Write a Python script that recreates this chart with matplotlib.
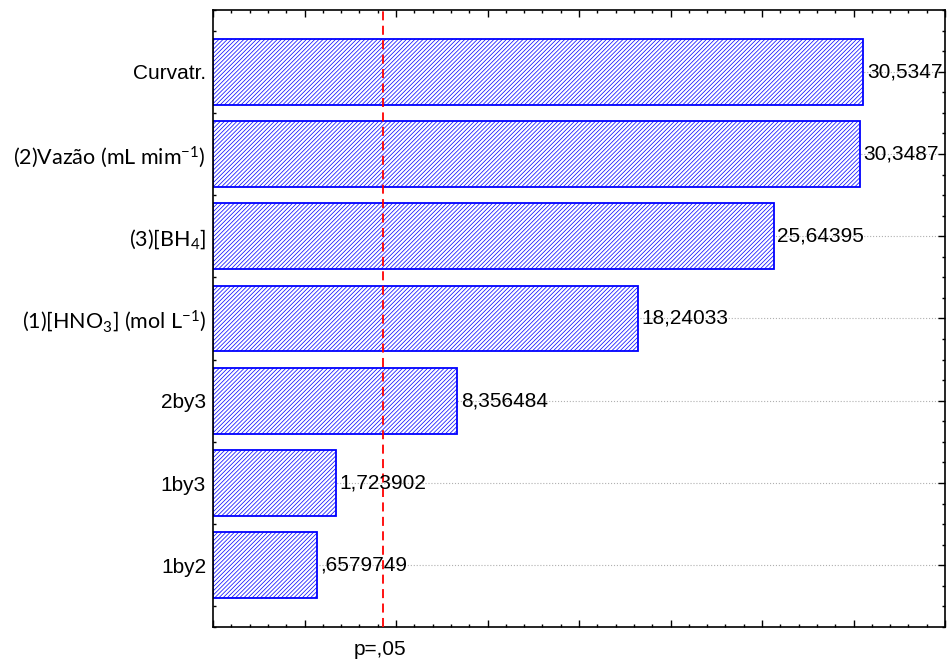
import matplotlib
matplotlib.use("Agg")
import matplotlib.pyplot as plt
from matplotlib.ticker import MultipleLocator, NullFormatter
import matplotlib.transforms as mtransforms

# ---- data ----
categories = ["Curvatr.", "(2)Vazão (mL mim$^{-1}$)", "(3)[BH$_4$]",
              "(1)[HNO$_3$] (mol L$^{-1}$)", "2by3", "1by3", "1by2"]
label_fonts = ["Liberation Sans", "Lato", "Lato", "Lato",
               "Liberation Sans", "Liberation Sans", "Liberation Sans"]
label_sizes = [15, 15.5, 15.5, 15.5, 15, 15, 15]
values = [30.5347, 30.3487, 25.64395, 18.24033, 8.356484, 1.723902, 0.6579749]
value_labels = ["30,5347", "30,3487", "25,64395", "18,24033",
                "8,356484", "1,723902", ",6579749"]
p_value = 4.302653
p_label = "p=,05"
x_min, x_max = -5, 35

plt.rcParams['font.family'] = ['Liberation Sans', 'DejaVu Sans']
plt.rcParams['mathtext.default'] = 'regular'
plt.rcParams['hatch.linewidth'] = 0.55

fig = plt.figure(figsize=(9.47, 6.64), dpi=100)
ax = fig.add_axes([213/947, 1-627/664, (945-213)/947, (627-10)/664])

ypos = list(range(len(categories)))
widths = [v - x_min for v in values]
# hatched fill
ax.barh(ypos, widths, left=x_min, height=0.8, color='white',
        edgecolor='#1010ff', hatch='////////', linewidth=0, zorder=2)
# outline
ax.barh(ypos, widths, left=x_min, height=0.8, fill=False,
        edgecolor='#0000ff', linewidth=1.3, zorder=2.5)

for y, v, t in zip(ypos, values, value_labels):
    ax.annotate(t, (v, y), xytext=(2.5, 0), textcoords='offset points',
                va='center', ha='left', fontsize=15, zorder=4,
                annotation_clip=False)

ax.axvline(p_value, color='red', linestyle=(0, (5, 3)), linewidth=1.3, zorder=3)

ax.set_xlim(x_min, x_max)
ax.set_ylim(len(categories) - 0.25, -0.75)

ax.xaxis.set_major_locator(MultipleLocator(5))
ax.xaxis.set_minor_locator(MultipleLocator(1))
ax.xaxis.set_major_formatter(NullFormatter())
ax.set_yticks(ypos)
ax.set_yticklabels(categories)
ax.yaxis.set_minor_locator(MultipleLocator(0.25))
for lbl, f, fs in zip(ax.get_yticklabels(), label_fonts, label_sizes):
    lbl.set_family([f, 'DejaVu Sans'])
    lbl.set_fontsize(fs)

ax.tick_params(which='both', direction='in', top=True, right=True, width=1.0)
ax.tick_params(which='major', length=5, pad=5)
ax.tick_params(which='minor', length=2.5)

ax.grid(axis='y', which='major', color='#b0b0b0', linestyle=':', linewidth=0.8, zorder=0)
ax.set_axisbelow(True)
for s in ax.spines.values():
    s.set_linewidth(1.2)

trans = mtransforms.blended_transform_factory(ax.transData, ax.transAxes)
ax.text(p_value - 0.2, -0.037, p_label, transform=trans, ha='center', va='center',
        fontsize=15)

fig.savefig("out.png", dpi=100)
